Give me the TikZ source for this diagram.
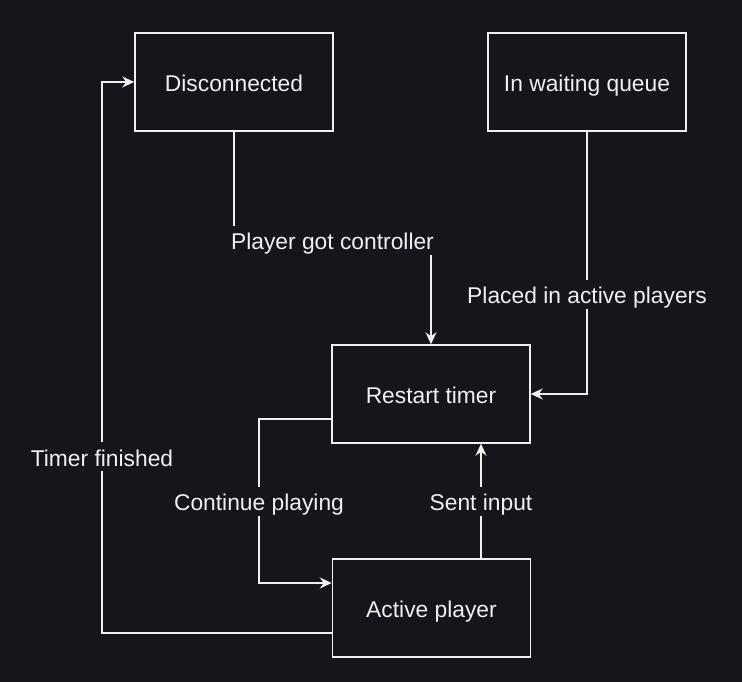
\documentclass[tikz,border=0pt]{standalone}
\usepackage{fontspec}
\setmainfont{Liberation Sans}
\usetikzlibrary{arrows.meta,calc}
\definecolor{bgc}{RGB}{24,20,28}
\definecolor{fgc}{RGB}{240,240,240}
\begin{document}
\begin{tikzpicture}[x=1pt,y=-1pt,
  txt/.style={text=fgc,font=\fontsize{22.8}{27}\selectfont,text height=21pt,text depth=2pt},
  state/.style={txt,draw=fgc,line width=1.5pt,fill=bgc,minimum width=198pt,minimum height=98pt,inner sep=0pt},
  conn/.style={draw=fgc,line width=1.5pt,-{Stealth[length=12pt,width=11pt,inset=4pt]}},
  lbl/.style={txt,fill=bgc,inner sep=3pt}]
\fill[bgc] (0,0) rectangle (742,682);
\useasboundingbox (0,0) rectangle (742,682);
\node[state] (d) at (234,82) {Disconnected};
\node[state] (q) at (587,82) {In waiting queue};
\node[state] (r) at (431,394) {Restart timer};
\node[state] (a) at (431.5,608) {Active player};
\coordinate (c1) at (234,240);
\coordinate (c2) at (431,240);
\draw[conn] (d.south) -- (c1) -- node[lbl] {Player got controller} (c2) -- (r.north);
\draw[conn] (q.south) |- node[lbl,pos=0.31] {Placed in active players} (r.east);
\coordinate (rw) at ($(r.west)+(0,25)$);
\coordinate (aw) at ($(a.west)+(0,-25)$);
\coordinate (k1) at (259,419);
\coordinate (k2) at (259,583);
\draw[conn] (rw) -- (k1) -- node[lbl] {Continue playing} (k2) -- (aw);
\coordinate (as) at ($(a.north)+(49.5,0)$);
\coordinate (rs) at ($(r.south)+(50,0)$);
\draw[conn] (as) -- node[lbl] {Sent input} (rs);
\coordinate (al) at ($(a.west)+(0,25)$);
\coordinate (t1) at (102,633);
\coordinate (t2) at (102,82);
\draw[conn] (al) -- (t1) -- node[lbl,pos=0.32] {Timer finished} (t2) -- (d.west);
\end{tikzpicture}
\end{document}
